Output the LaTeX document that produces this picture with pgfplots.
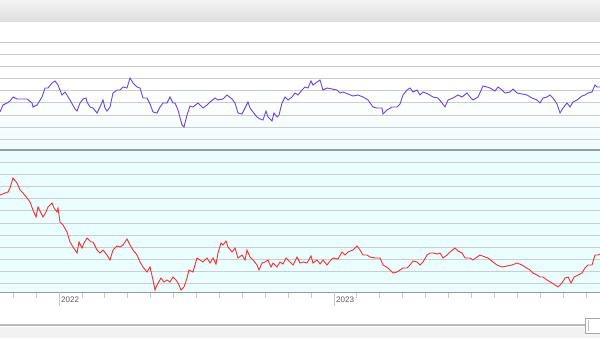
\documentclass[border=0pt]{standalone}
\usepackage{pgfplots}
\pgfplotsset{compat=1.18}
\usepackage{pgfplotstable}
\usepackage{fontspec}
\setmainfont{Liberation Sans}

\definecolor{hdrtop}{RGB}{244,244,244}
\definecolor{hdrbot}{RGB}{220,220,220}
\definecolor{paneltop}{RGB}{255,255,255}
\definecolor{panelbot}{RGB}{240,252,253}
\definecolor{lowbg}{RGB}{234,253,255}
\definecolor{gridc}{RGB}{205,205,205}
\definecolor{sepc}{RGB}{150,155,158}
\definecolor{linepurple}{RGB}{105,70,230}
\definecolor{linered}{RGB}{245,50,50}
\definecolor{tickc}{RGB}{200,200,200}
\definecolor{labelc}{RGB}{90,90,90}

% x and y in screen pixels of the source chart (y grows downwards)
\pgfplotstableread{
x y
0 112
3 105
7 103
10 101
13 97
17 99
22 99
27 99
32 103
33 107
37 105
42 97
45 88
48 88
52 83
55 81
58 85
62 95
65 92
70 100
75 109
77 111
80 103
83 99
86 98
87 102
90 107
93 108
97 113
100 107
103 100
105 108
107 111
110 107
113 93
117 90
120 90
123 87
127 88
130 78
133 83
137 87
140 88
143 98
147 98
150 104
153 112
157 113
160 107
163 103
167 103
170 97
173 103
175 103
178 110
182 125
184 127
187 115
190 106
193 107
198 103
200 105
203 108
207 105
210 102
215 98
218 100
223 99
227 95
232 99
235 103
238 113
242 114
245 108
248 102
250 108
253 112
257 117
260 119
263 120
266 111
268 117
272 121
274 113
277 117
279 115
282 103
285 97
288 100
292 97
295 93
298 95
302 90
305 87
308 88
311 81
313 85
317 82
320 80
323 90
327 88
332 89
337 90
340 93
343 92
348 94
353 96
358 95
363 97
368 100
373 107
377 108
382 108
383 114
387 110
392 107
397 107
400 104
403 95
407 90
410 88
413 92
417 90
420 95
423 92
428 94
433 97
438 98
442 103
445 107
448 100
453 98
458 95
462 97
467 93
470 97
473 100
478 97
483 86
487 87
490 88
495 91
498 87
502 90
505 93
510 92
513 89
517 93
522 94
527 95
532 98
537 100
540 103
543 98
547 97
550 95
553 98
557 104
560 113
563 108
567 103
570 107
573 102
577 100
582 96
585 95
588 93
592 92
595 85
597 87
600 87
}\upperdata

\pgfplotstableread{
x y
0 195
5 193
8 192
10 188
13 178
17 183
20 190
23 193
27 198
30 202
33 210
36 217
38 207
41 213
43 217
46 212
48 207
52 203
54 208
57 212
58 208
60 222
63 225
67 232
70 242
73 247
77 253
79 242
82 248
84 243
87 238
91 242
93 242
97 250
100 253
103 250
107 255
110 260
113 250
117 246
120 247
123 245
127 239
130 245
133 250
137 255
140 262
143 267
147 272
150 267
153 280
155 290
157 285
161 278
164 282
167 280
170 282
173 277
176 280
178 283
181 290
184 287
187 278
189 270
193 272
197 258
200 260
203 262
207 258
210 263
213 258
216 264
218 253
221 243
223 245
226 241
228 247
232 252
235 248
238 258
242 255
245 260
247 250
250 257
253 260
257 265
259 270
262 263
265 262
268 260
271 267
273 263
277 267
280 262
283 264
286 258
290 262
293 265
297 257
300 263
303 262
307 263
311 256
313 263
317 260
320 264
323 260
327 265
330 261
333 258
338 259
342 252
345 255
348 252
353 250
357 246
360 250
363 255
367 255
370 257
375 258
380 258
383 265
388 268
393 273
397 272
400 270
403 268
407 268
410 265
413 261
417 262
420 265
423 262
427 255
430 253
433 253
437 254
440 253
443 258
447 255
450 252
455 248
458 251
462 253
465 258
470 258
473 260
477 257
480 255
485 257
488 258
493 262
497 265
502 267
507 266
512 265
517 263
522 265
525 267
530 270
533 273
537 275
540 277
543 277
547 280
552 283
555 285
558 287
562 283
565 278
568 277
571 283
574 277
578 275
582 273
585 268
588 265
592 265
595 255
598 255
600 254
}\lowerdata

\begin{document}
\begin{tikzpicture}[x=1pt,y=1pt]
% page background and header band
\fill[white] (0,0) rectangle (600,338);
\shade[top color=hdrtop, bottom color=hdrbot] (0,316) rectangle (600,338);

\pgfplotsset{
  panel/.style={
    scale only axis, width=600pt,
    xmin=0, xmax=600, y dir=reverse,
    axis line style={draw=none},
    ymajorgrids, grid style={gridc, line width=1pt},
    yticklabels={}, major tick length=0pt,
    clip=true,
  },
}

% upper panel
\begin{axis}[panel,
  at={(0pt,188pt)}, anchor=south west, height=128pt,
  ymin=22, ymax=150,
  xtick=\empty,
  ytick={42.3,54.4,66.6,78.7,90.8,102.9,115.1,127.2,139.3},
  axis background/.style={top color=paneltop, bottom color=panelbot, middle color=paneltop},
]
\addplot[linepurple, line width=0.9pt] table[x=x, y=y] {\upperdata};
\end{axis}

% lower panel
\begin{axis}[panel,
  at={(0pt,46pt)}, anchor=south west, height=142pt,
  ymin=150, ymax=292,
  axis background/.style={fill=lowbg},
  ytick={162.7,174.8,186.8,198.9,210.9,223.0,235.0,247.1,259.1,271.2,283.2},
  axis x line*=bottom,
  x axis line style={draw=sepc, line width=0.8pt},
  xtick={13.2,36.1,81.9,104.8,127.8,150.7,173.6,196.5,219.4,242.3,265.2,288.1,311,356.8,379.8,402.7,425.6,448.5,471.4,494.3,517.3,540.2,563.1,586},
  xticklabels={},
  major tick length=6pt,
  x tick style={draw=tickc, line width=0.8pt},
  y tick style={draw=none},
  tick align=outside,
  extra x ticks={59,334},
  extra x tick labels={\mbox{2022},\mbox{2023}},
  extra x tick style={
    major tick length=14pt,
    xticklabel style={anchor=north west, inner sep=0pt, xshift=2pt, yshift=9pt,
      font=\fontsize{8}{9}\selectfont, text=labelc},
  },
]
\addplot[linered, line width=0.9pt] table[x=x, y=y] {\lowerdata};
\end{axis}

% separator between the panels
\draw[sepc, line width=1.2pt] (0,188) -- (600,188);

% scrollbar
\fill[black!5] (0,0) rectangle (600,11);
\draw[black!28, line width=1.2pt] (0,13) -- (586,13);
\fill[white] (585,5) rectangle (600,20);
\draw[black!35, line width=0.8pt] (585,5) rectangle (601,20);
\draw[black!25, line width=0.6pt] (588.5,7) -- (588.5,18);

\pgfresetboundingbox
\path[use as bounding box] (0,0) rectangle (600,338);
\end{tikzpicture}
\end{document}
